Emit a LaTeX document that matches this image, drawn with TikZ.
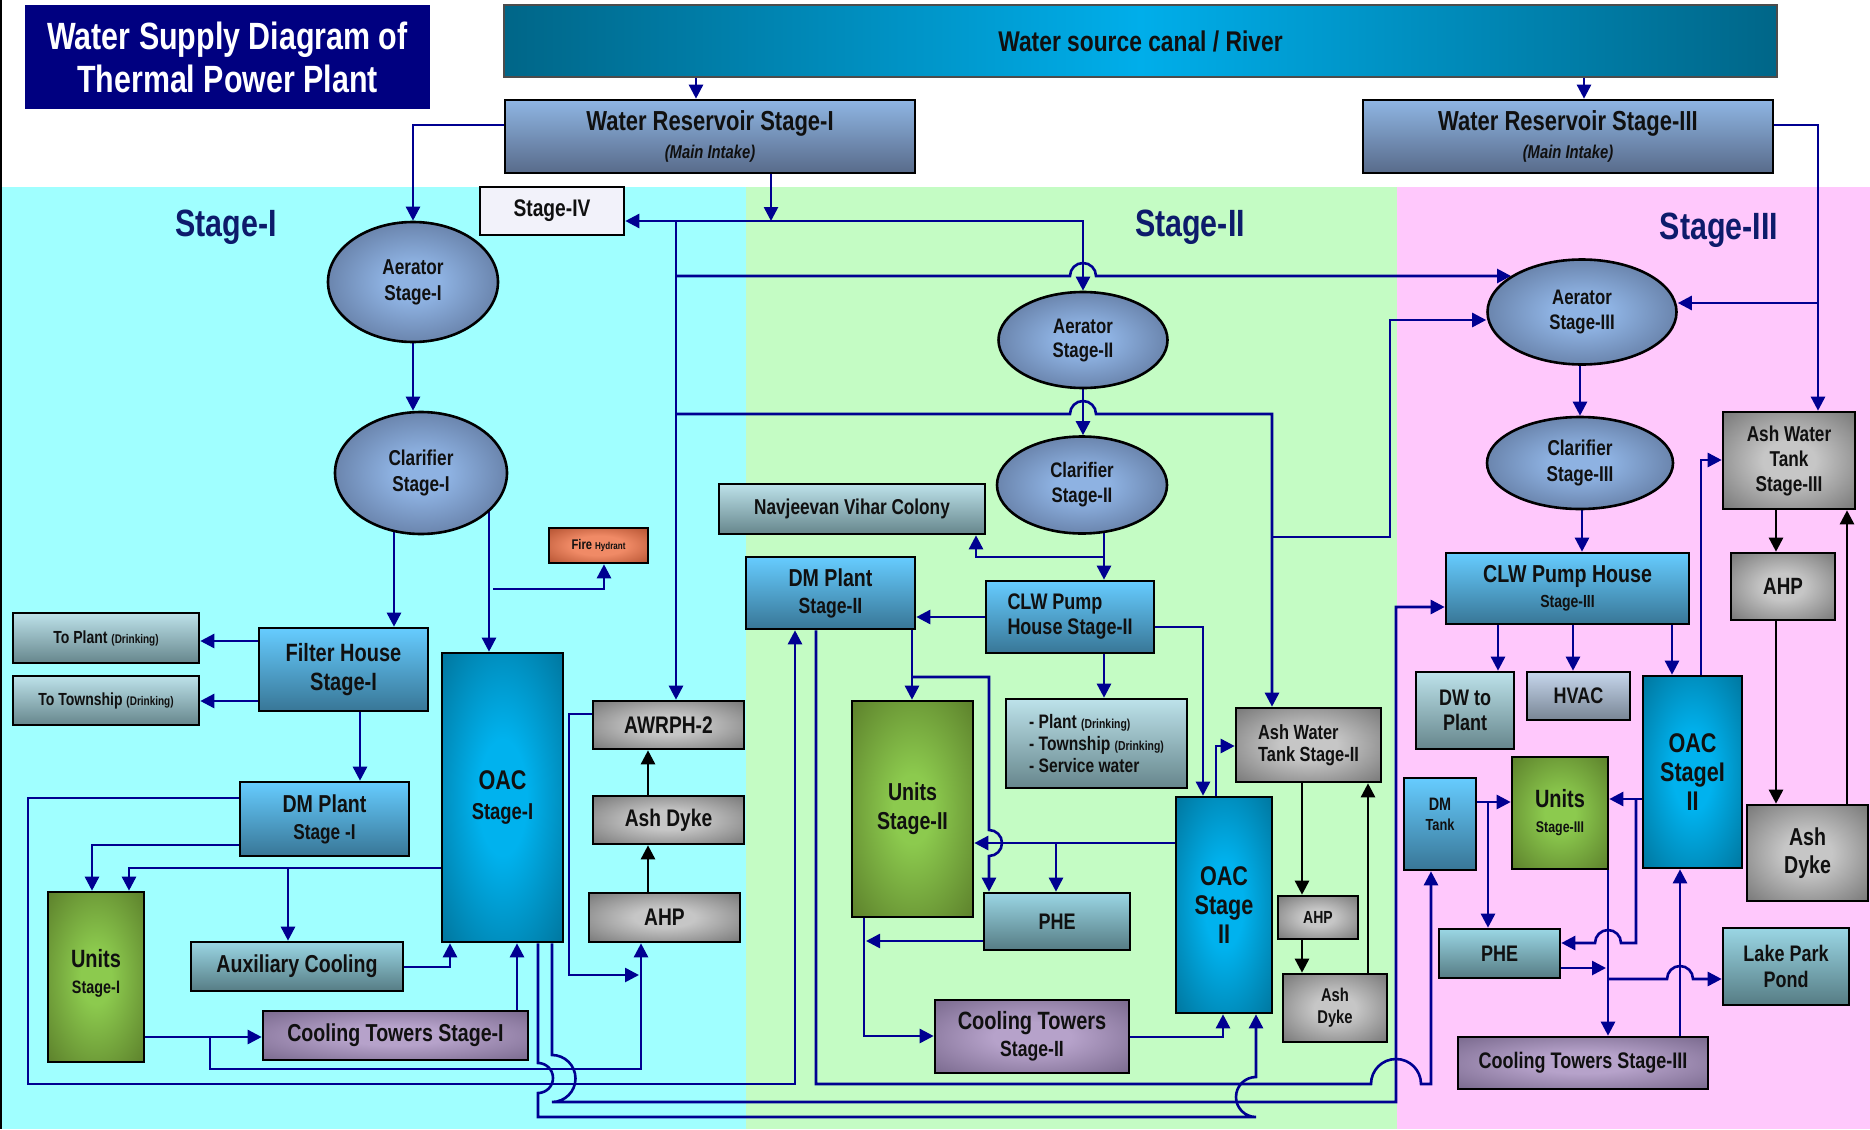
\documentclass[tikz,border=0pt]{standalone}
\usepackage{fontspec}
\setmainfont{Liberation Sans}[FakeStretch=0.8]
\usetikzlibrary{arrows.meta,shapes.geometric}
\definecolor{ln}{HTML}{000091}
\definecolor{txt}{HTML}{101010}
\definecolor{ttl}{HTML}{000080}
\definecolor{stgc}{HTML}{0D1B6B}
\definecolor{rvdk}{HTML}{006688}
\definecolor{rvbr}{HTML}{00AEEA}
\definecolor{rstop}{HTML}{8FB5E3}
\definecolor{rsbot}{HTML}{586B8A}
\definecolor{bltop}{HTML}{66CCFF}
\definecolor{blbot}{HTML}{387696}
\definecolor{tgtop}{HTML}{BDE2EA}
\definecolor{tgbot}{HTML}{66868C}
\definecolor{phtop}{HTML}{9AD6E4}
\definecolor{phbot}{HTML}{567C84}
\definecolor{hvtop}{HTML}{C6D6EC}
\definecolor{hvbot}{HTML}{788594}
\definecolor{stfill}{HTML}{F2F2FA}
\definecolor{grin}{HTML}{C6C6C6}
\definecolor{grout}{HTML}{5E5E5E}
\definecolor{gnin}{HTML}{8CCA4E}
\definecolor{gnout}{HTML}{557526}
\definecolor{puin}{HTML}{B6A2CA}
\definecolor{puout}{HTML}{66577A}
\definecolor{oain}{HTML}{00B2EE}
\definecolor{oaout}{HTML}{00678A}
\definecolor{frin}{HTML}{F08A66}
\definecolor{frout}{HTML}{983818}
\definecolor{elin}{HTML}{8EB2E2}
\definecolor{elout}{HTML}{4C5E80}
\definecolor{cyanbg}{HTML}{A0FFFF}
\definecolor{greenbg}{HTML}{C4FCC4}
\definecolor{pinkbg}{HTML}{FFC8FC}
\pgfdeclareradialshading{greysh}{\pgfpoint{0bp}{0bp}}{color(0bp)=(grin); color(10bp)=(grin); color(44bp)=(grout); color(50bp)=(grout)}
\pgfdeclareradialshading{greensh}{\pgfpoint{0bp}{0bp}}{color(0bp)=(gnin); color(8bp)=(gnin); color(40bp)=(gnout); color(50bp)=(gnout)}
\pgfdeclareradialshading{pursh}{\pgfpoint{0bp}{0bp}}{color(0bp)=(puin); color(10bp)=(puin); color(44bp)=(puout); color(50bp)=(puout)}
\pgfdeclareradialshading{oacsh}{\pgfpoint{0bp}{0bp}}{color(0bp)=(oain); color(10bp)=(oain); color(42bp)=(oaout); color(50bp)=(oaout)}
\pgfdeclareradialshading{firesh}{\pgfpoint{0bp}{0bp}}{color(0bp)=(frin); color(14bp)=(frin); color(46bp)=(frout); color(50bp)=(frout)}
\pgfdeclareradialshading{ellsh}{\pgfpoint{0bp}{0bp}}{color(0bp)=(elin); color(8bp)=(elin); color(40bp)=(elout); color(50bp)=(elout)}
\pgfdeclarelayer{bgl}
\pgfdeclarelayer{lns}
\pgfsetlayers{bgl,lns,main}
\newcommand\fz[2]{\fontsize{#1}{#2}\selectfont}
\tikzset{
  bx/.style={draw=black, line width=2.6pt, rectangle, inner sep=0pt, align=center, text=txt},
  bluebx/.style={bx, top color=bltop, bottom color=blbot},
  tealbx/.style={bx, top color=tgtop, bottom color=tgbot},
  phebx/.style={bx, top color=phtop, bottom color=phbot},
  hvacbx/.style={bx, top color=hvtop, bottom color=hvbot},
  resbx/.style={bx, top color=rstop, bottom color=rsbot},
  greybx/.style={bx, shade, shading=greysh},
  greenbx/.style={bx, shade, shading=greensh},
  purbx/.style={bx, shade, shading=pursh},
  oacbx/.style={bx, shade, shading=oacsh},
  firebx/.style={bx, shade, shading=firesh},
  ell/.style={ellipse, draw=black, line width=2.6pt, shade, shading=ellsh, inner sep=0pt, align=center, text=txt},
  arr/.style={draw=ln, line width=2.6pt, -{Triangle[length=14pt,width=14pt]}},
  blk/.style={draw=black, line width=2.6pt, -{Triangle[length=14pt,width=14pt]}},
  stg/.style={text=stgc, font=\bfseries\fz{38}{40}, inner sep=0pt},
}
\begin{document}
\begin{tikzpicture}[x=1pt,y=-1pt]
\useasboundingbox (0,0) rectangle (1870,1129);
\begin{pgfonlayer}{bgl}
\fill[white] (0,0) rectangle (1870,1129);
\fill[cyanbg] (0,187) rectangle (746,1129);
\fill[greenbg] (746,187) rectangle (1397,1129);
\fill[pinkbg] (1397,187) rectangle (1870,1129);
\draw[line width=2pt] (1,0) -- (1,1129);
\end{pgfonlayer}

% ---------- top ----------
\node[fill=ttl, minimum width=405pt, minimum height=104pt, inner sep=0pt, align=center, text=white, font=\bfseries\fz{38}{43}] (title) at (227.5,57) {Water Supply Diagram of\\Thermal Power Plant};
\node[draw=black!70, line width=2pt, left color=rvdk, right color=rvdk, middle color=rvbr, minimum width=1273pt, minimum height=72pt, inner sep=0pt, text=txt, font=\bfseries\fz{28.5}{30}] (river) at (1140.5,41) {Water source canal / River};
\node[resbx, minimum width=410pt, minimum height=73pt, font=\bfseries\fz{27.5}{28}] (res1) at (710,136.5) {Water Reservoir Stage-I\\{\fz{18.5}{20}\itshape (Main Intake)}};
\node[resbx, minimum width=410pt, minimum height=73pt, font=\bfseries\fz{27.5}{28}] (res3) at (1568,136.5) {Water Reservoir Stage-III\\{\fz{18.5}{20}\itshape (Main Intake)}};

\node[stg] (s1) at (226,227) {Stage-I};
\node[stg] (s2) at (1190,227) {Stage-II};
\node[stg] (s3) at (1719,230) {Stage-III};

% ---------- Stage I ----------
\node[bx, fill=stfill, minimum width=144pt, minimum height=48pt, font=\bfseries\fz{24}{26}] (st4) at (552,211) {Stage-IV};
\node[ell, minimum width=170pt, minimum height=120pt, font=\bfseries\fz{21.5}{26}] (aer1) at (413,282) {Aerator\\Stage-I};
\node[ell, minimum width=172pt, minimum height=122pt, font=\bfseries\fz{21.5}{26}] (cla1) at (421,473) {Clarifier\\Stage-I};
\node[bluebx, minimum width=169pt, minimum height=83pt, font=\bfseries\fz{25}{29}] (fh1) at (343.5,669.5) {Filter House\\Stage-I};
\node[tealbx, minimum width=186pt, minimum height=50pt, font=\bfseries\fz{17.5}{20}] (tpl) at (106,638) {To Plant {\fz{12.5}{14}(Drinking)}};
\node[tealbx, minimum width=186pt, minimum height=49pt, font=\bfseries\fz{17.5}{20}] (ttw) at (106,700.5) {To Township {\fz{12.5}{14}(Drinking)}};
\node[firebx, minimum width=99pt, minimum height=35pt, font=\bfseries\fz{14}{15}] (fire) at (598.5,545.5) {Fire {\fz{10}{10}Hydrant}};
\node[oacbx, minimum width=121pt, minimum height=289pt, font=\bfseries\fz{27}{30}] (oac1) at (502.5,797.5) {OAC\\{\fz{23}{26}Stage-I}};
\node[greybx, minimum width=151pt, minimum height=48pt, font=\bfseries\fz{24}{26}] (awr) at (668.5,725) {AWRPH-2};
\node[greybx, minimum width=151pt, minimum height=48pt, font=\bfseries\fz{24}{26}] (ad1) at (668.5,820) {Ash Dyke};
\node[greybx, minimum width=151pt, minimum height=49pt, font=\bfseries\fz{24}{26}] (ahp1) at (664.5,917.5) {AHP};
\node[bluebx, minimum width=169pt, minimum height=74pt, font=\bfseries\fz{24.5}{27}] (dm1) at (324.5,819) {DM Plant\\{\fz{21.5}{24}Stage -I}};
\node[greenbx, minimum width=96pt, minimum height=170pt, font=\bfseries\fz{25}{26}] (un1) at (96,977) {Units\\{\fz{18}{18}Stage-I}\\[-14pt]~};
\node[phebx, minimum width=212pt, minimum height=49pt, font=\bfseries\fz{24.5}{26}] (aux) at (297,966.5) {Auxiliary Cooling};
\node[purbx, minimum width=265pt, minimum height=49pt, font=\bfseries\fz{24.5}{26}] (ct1) at (395.5,1035.5) {Cooling Towers Stage-I};

% ---------- Stage II ----------
\node[ell, minimum width=169pt, minimum height=96pt, font=\bfseries\fz{21}{24}] (aer2) at (1083,340) {Aerator\\Stage-II};
\node[ell, minimum width=170pt, minimum height=97pt, font=\bfseries\fz{21}{25}] (cla2) at (1082,485) {Clarifier\\Stage-II};
\node[tealbx, minimum width=266pt, minimum height=50pt, font=\bfseries\fz{21.5}{24}] (nav) at (852,509) {Navjeevan Vihar Colony};
\node[bluebx, minimum width=169pt, minimum height=72pt, font=\bfseries\fz{24.5}{27}] (dm2) at (830.5,593) {DM Plant\\{\fz{22}{24}Stage-II}};
\node[bluebx, minimum width=168pt, minimum height=72pt, align=left, font=\bfseries\fz{22.5}{25}] (clw2) at (1070,617) {CLW Pump\\House Stage-II};
\node[greenbx, minimum width=121pt, minimum height=216pt, font=\bfseries\fz{24.5}{29}] (un2) at (912.5,809) {Units\\Stage-II};
\node[phebx, minimum width=146pt, minimum height=57pt, font=\bfseries\fz{22.5}{24}] (phe2) at (1057,921.5) {PHE};
\node[oacbx, minimum width=96pt, minimum height=216pt, font=\bfseries\fz{27}{29}] (oac2) at (1224,905) {OAC\\Stage\\II};
\node[purbx, minimum width=194pt, minimum height=73pt, font=\bfseries\fz{25}{27}] (ct2) at (1032,1036.5) {Cooling Towers\\{\fz{22}{22}Stage-II}};
\node[greybx, minimum width=145pt, minimum height=74pt, align=left, font=\bfseries\fz{20.5}{22}] (awt2) at (1308.5,745) {Ash Water\\Tank Stage-II};
\node[greybx, minimum width=80pt, minimum height=43pt, font=\bfseries\fz{17.5}{19}] (ahp2) at (1318,917.5) {AHP};
\node[greybx, minimum width=104pt, minimum height=68pt, font=\bfseries\fz{18.5}{22}] (ad2) at (1335,1008) {Ash\\Dyke};
\node[tealbx, minimum width=181pt, minimum height=89pt, align=left, font=\bfseries\fz{19.5}{22}] (pl2) at (1096.5,743.5) {- Plant {\fz{13}{14}(Drinking)}\\- Township {\fz{13}{14}(Drinking)}\\- Service water};

% ---------- Stage III ----------
\node[ell, minimum width=189pt, minimum height=105pt, font=\bfseries\fz{21}{25}] (aer3) at (1582,312) {Aerator\\Stage-III};
\node[ell, minimum width=186pt, minimum height=92pt, font=\bfseries\fz{21.5}{26}] (cla3) at (1580,463) {Clarifier\\Stage-III};
\node[bluebx, minimum width=243pt, minimum height=71pt, font=\bfseries\fz{24.5}{25}] (clw3) at (1567.5,588.5) {CLW Pump House\\{\fz{17.5}{19}Stage-III}};
\node[tealbx, minimum width=98pt, minimum height=77pt, font=\bfseries\fz{22.5}{25}] (dw) at (1465,710.5) {DW to\\Plant};
\node[hvacbx, minimum width=103pt, minimum height=48pt, font=\bfseries\fz{22.5}{24}] (hvac) at (1578.5,696) {HVAC};
\node[oacbx, minimum width=99pt, minimum height=192pt, font=\bfseries\fz{27}{29}] (oac3) at (1692.5,772) {OAC\\StageI\\II};
\node[greybx, minimum width=132pt, minimum height=97pt, font=\bfseries\fz{21.5}{25}] (awt3) at (1789,460.5) {Ash Water\\Tank\\Stage-III};
\node[greybx, minimum width=104pt, minimum height=67pt, font=\bfseries\fz{23.5}{25}] (ahp3) at (1783,586.5) {AHP};
\node[greybx, minimum width=121pt, minimum height=96pt, font=\bfseries\fz{24.5}{28}] (ad3) at (1807.5,853) {Ash\\Dyke};
\node[bluebx, minimum width=72pt, minimum height=92pt, font=\bfseries\fz{18}{20}] (dmt) at (1440,824) {DM\\{\fz{16}{16}Tank}\\~};
\node[greenbx, minimum width=96pt, minimum height=112pt, font=\bfseries\fz{25}{25}] (un3) at (1560,813) {Units\\{\fz{15.5}{17}Stage-III}};
\node[phebx, minimum width=121pt, minimum height=49pt, font=\bfseries\fz{22.5}{24}] (phe3) at (1499.5,953.5) {PHE};
\node[phebx, minimum width=126pt, minimum height=77pt, font=\bfseries\fz{22.5}{26}] (lake) at (1786,966.5) {Lake Park\\Pond};
\node[purbx, minimum width=250pt, minimum height=52pt, font=\bfseries\fz{22.5}{24}] (ct3) at (1583,1063) {Cooling Towers Stage-III};

% ---------- connectors ----------
\begin{pgfonlayer}{lns}
\draw[arr] (river.south -| 696,0) -- (res1.north -| 696,0);
\draw[arr] (river.south -| 1584,0) -- (res3.north -| 1584,0);
\draw[arr] (res1.west |- 0,125) -| (aer1.north);
\draw[arr] (aer1.south) -- (aer1.south |- cla1.north);
\draw[arr] (cla1.center -| 394,0) -- (fh1.north -| 394,0);
\draw[arr] (cla1.center -| 489,0) -- (oac1.north -| 489,0);
\coordinate (jf) at (493,589);
\draw[arr] (jf) -| (fire.south -| 604,0);
\draw[arr] (fh1.west |- 0,641) -- (tpl.east |- 0,641);
\draw[arr] (fh1.west |- 0,701) -- (ttw.east |- 0,701);
\draw[arr] (fh1.south -| 360,0) -- (dm1.north -| 360,0);
\draw[arr] (dm1.west |- 0,845) -| (un1.north -| 92,0);
\draw[arr] (oac1.west |- 0,868) -| (un1.north -| 129,0);
\coordinate (ja) at (288,868);
\draw[arr] (ja) -- (aux.north -| 288,0);
\draw[arr] (aux.east |- 0,967) -| (oac1.south -| 450,0);
\draw[arr] (ct1.north -| 517,0) -- (oac1.south -| 517,0);
\draw[arr] (un1.east |- 0,1037) -- (ct1.west |- 0,1037);
\coordinate (jc) at (210,1037);
\draw[arr] (jc) |- (641,1069) -- (ahp1.south -| 641,0);
\draw[arr] (awr.west |- 0,714) -| (569,975) -- (639,975);
\draw[blk] (ahp1.north -| 648,0) -- (ad1.south -| 648,0);
\draw[blk] (ad1.north -| 648,0) -- (awr.south -| 648,0);
% Stage-IV network
\coordinate (j4) at (771,221);
\coordinate (j5) at (676,221);
\draw[arr] (res1.south -| 771,0) -- (j4);
\draw[arr] (j4) -- (st4.east |- 0,221);
\draw[arr] (j4) -| (aer2.north);
\draw[arr] (j5) -- (awr.north -| 676,0);
\coordinate (jb) at (676,276);
\draw[arr] (jb) -- (1070,276) arc (180:360:13) -- (aer3.153 |- 0,276);
\coordinate (j6) at (676,414);
\draw[arr] (j6) -- (1070,414) arc (180:360:13) -- (1272,414) -- (awt2.north -| 1272,0);
\coordinate (j7) at (1272,537);
\draw[arr] (j7) -| (1390,320) -- (aer3.west |- 0,320);
% Stage II
\draw[arr] (aer2.south) -- (aer2.south |- cla2.north);
\draw[arr] (cla2.center -| 1104,0) -- (clw2.north -| 1104,0);
\coordinate (j8) at (1104,557);
\draw[arr] (j8) -| (nav.south -| 976,0);
\draw[arr] (clw2.west |- 0,617) -- (dm2.east |- 0,617);
\draw[arr] (clw2.south -| 1104,0) -- (pl2.north -| 1104,0);
\draw[arr] (clw2.east |- 0,627) -| (oac2.north -| 1203,0);
\draw[arr] (dm2.south -| 912,0) -- (un2.north -| 912,0);
\coordinate (j9) at (912,677);
\draw[arr] (j9) -| (989,830) arc (-90:90:13) -- (phe2.north -| 989,0);
\draw[arr] (oac2.west |- 0,843) -- (un2.east |- 0,843);
\coordinate (j10) at (1056,843);
\draw[arr] (j10) -- (phe2.north -| 1056,0);
\draw[arr] (un2.south -| 864,0) |- (ct2.west |- 0,1036);
\draw[arr] (phe2.west |- 0,941) -- (866,941);
\draw[arr] (ct2.east |- 0,1037) -| (oac2.south -| 1223,0);
\draw[arr] (oac2.north -| 1216,0) |- (awt2.west |- 0,746);
\draw[blk] (awt2.south -| 1302,0) -- (ahp2.north -| 1302,0);
\draw[blk] (ahp2.south -| 1302,0) -- (ad2.north -| 1302,0);
\draw[blk] (ad2.north -| 1368,0) -- (awt2.south -| 1368,0);
% Stage III
\coordinate (j11) at (1818,303);
\draw[arr] (res3.east |- 0,125) -| (awt3.north -| 1818,0);
\draw[arr] (j11) -- (aer3.east |- 0,303);
\draw[arr] (aer3.south -| 1580,0) -- (cla3.north -| 1580,0);
\draw[arr] (cla3.south -| 1582,0) -- (clw3.north -| 1582,0);
\draw[arr] (clw3.south -| 1498,0) -- (dw.north -| 1498,0);
\draw[arr] (clw3.south -| 1573,0) -- (hvac.north -| 1573,0);
\draw[arr] (clw3.south -| 1672,0) -- (oac3.north -| 1672,0);
\draw[arr] (oac3.north -| 1701,0) |- (awt3.west |- 0,460);
\draw[blk] (awt3.south -| 1776,0) -- (ahp3.north -| 1776,0);
\draw[blk] (ahp3.south -| 1776,0) -- (ad3.north -| 1776,0);
\draw[blk] (ad3.north -| 1847,0) -- (awt3.south -| 1847,0);
\draw[arr] (dmt.east |- 0,802) -- (un3.west |- 0,802);
\coordinate (j12) at (1488,802);
\draw[arr] (j12) -- (phe3.north -| 1488,0);
\draw[arr] (oac3.west |- 0,799) -- (un3.east |- 0,799);
\coordinate (j13) at (1636,799);
\draw[arr] (j13) |- (1621,943) arc (0:-180:13) -- (phe3.east |- 0,943);
\draw[arr] (un3.south -| 1608,0) -- (ct3.north -| 1608,0);
\draw[arr] (phe3.east |- 0,968) -- (1606,968);
\coordinate (j14) at (1608,979);
\draw[arr] (j14) -- (1667,979) arc (180:360:13) -- (lake.west |- 0,979);
\draw[arr] (ct3.north -| 1680,0) -- (oac3.south -| 1680,0);
% bottom network
\draw[arr] (dm1.west |- 0,798) -| (28,1084) -| (dm2.south -| 795,0);
\draw[arr] (dm2.south -| 816,0) |- (1371,1084) arc (180:360:25) -- (1431,1084) -- (dmt.south -| 1431,0);
\draw[arr] (oac1.south -| 552,0) -- (552,1055) arc (-90:90:23.5) -- (1396,1102) |- (clw3.west |- 0,607);
\draw[arr] (oac1.south -| 538,0) -- (538,1063) arc (-90:90:15) -- (538,1117) -- (1256,1117) arc (90:270:20) -- (oac2.south -| 1256,0);
\end{pgfonlayer}
\end{tikzpicture}
\end{document}
